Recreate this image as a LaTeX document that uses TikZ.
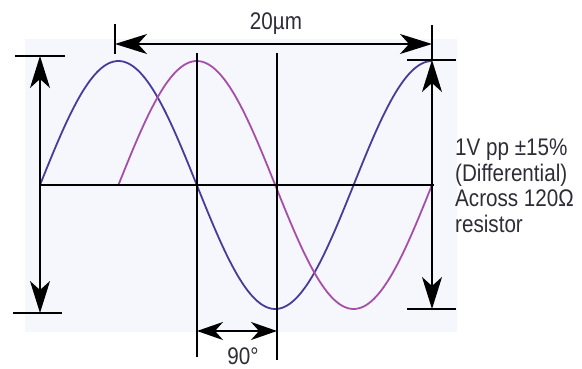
\documentclass[tikz,border=0pt]{standalone}
\usepackage{fontspec}
\setmainfont{Liberation Sans}[FakeStretch=0.86]
\usetikzlibrary{arrows.meta}
\definecolor{wavblue}{RGB}{74,58,154}
\definecolor{wavmag}{RGB}{166,78,168}
\definecolor{panel}{RGB}{245,247,252}
\definecolor{txt}{RGB}{45,45,55}

\begin{document}
\begin{tikzpicture}[x=1pt,y=-1pt,
  ln/.style={line width=1.5pt,black},
  wave/.style={line width=1.8pt},
  dim/.style={ln,{Stealth[length=32pt,width=20pt,inset=9pt]}-{Stealth[length=32pt,width=20pt,inset=9pt]}},
  dimsmall/.style={ln,{Stealth[length=26pt,width=18pt,inset=8pt]}-{Stealth[length=26pt,width=18pt,inset=8pt]}},
  lbl/.style={inner sep=0pt,text=txt,font=\fontsize{24}{25.5}\selectfont}]
\useasboundingbox (0,0) rectangle (582,369);
\fill[panel] (25,39) rectangle (457,332);
\draw[wave,wavblue] plot[domain=40:432,samples=150] (\x,{185-124*sin((\x-40)/313.6*360)});
\draw[wave,wavmag] plot[domain=118.4:432,samples=120] (\x,{185-124*sin((\x-118.4)/313.6*360)});
\coordinate (ltop) at (40,56);
\coordinate (lbot) at (40,313);
\coordinate (rtop) at (432,60);
\coordinate (rbot) at (432,309);
\coordinate (wl) at (115,44);
\coordinate (wr) at (432,44);
\coordinate (pl) at (197,331);
\coordinate (pr) at (277,331);
\draw[ln] (40,185) -- (434,185);
\draw[ln] (197,53) -- (197,357);
\draw[ln] (277,53) -- (277,360);
\draw[ln] (15,56) -- (65,56);
\draw[ln] (13,313) -- (62,313);
\draw[ln] (115,24) -- (115,54);
\draw[ln] (432,25) -- (rtop);
\draw[ln] (407,60) -- (456,60);
\draw[ln] (407,309) -- (456,309);
\draw[dim] (ltop) -- (lbot);
\draw[dim] (rtop) -- (rbot);
\draw[dim] (wl) -- (wr);
\draw[dimsmall] (pl) -- (pr);
\node[lbl,anchor=base] (len) at (276,30) {20µm};
\node[lbl,anchor=base] (phase) at (243,364) {90°};
\node[lbl,anchor=base west,align=left] (spec) at (455,232) {1V pp ±15\%\\(Differential)\\Across 120Ω\\resistor};
\end{tikzpicture}
\end{document}
